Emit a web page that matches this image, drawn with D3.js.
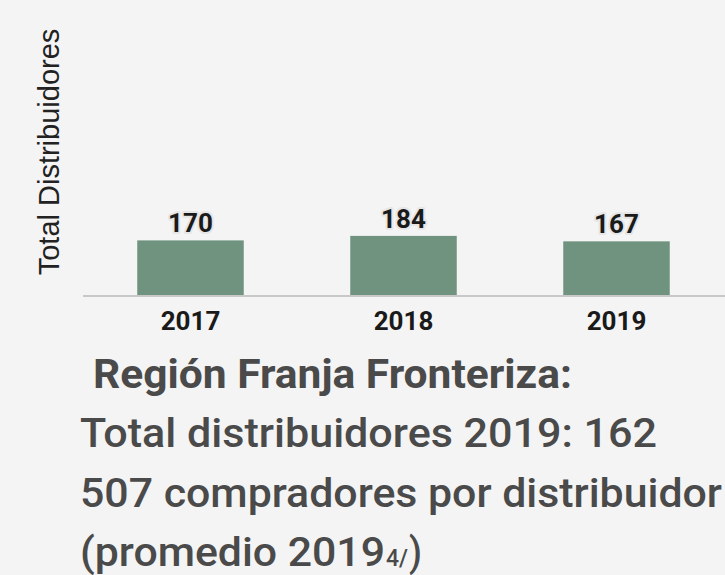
<!DOCTYPE html>
<html>
<head>
<meta charset="utf-8">
<script src="https://cdn.jsdelivr.net/npm/d3@7"></script>
<style>
  body { margin: 0; background: #f4f4f4; }
  svg { display: block; }
</style>
</head>
<body>
<div id="chart"></div>
<script>
var years = ['2017', '2018', '2019'],
    totals = [170, 184, 167];

var yTitle = 'Total Distribuidores';
var notes = [
    {text: 'Región Franja Fronteriza:', weight: 700, x: 93, len: 479},
    {text: 'Total distribuidores 2019: 162', weight: 500, x: 80, len: 577},
    {text: '507 compradores por distribuidor', weight: 500, x: 80, len: 642}
];

var width = 725, height = 575,
    barColor = '#6f937f',
    textColor = '#4a4a4a';

var svg = d3.select('#chart').append('svg')
    .attr('width', width)
    .attr('height', height);

svg.append('rect')
    .attr('width', width)
    .attr('height', height)
    .attr('fill', '#f4f4f4');

var x = d3.scaleBand()
    .domain(years)
    .range([84, 723])
    .paddingInner(0.5)
    .paddingOuter(0.25);

var y = d3.scaleLinear()
    .domain([0, 800])
    .range([295, 38]);

// bars
svg.selectAll('rect.bar')
    .data(totals)
    .enter().append('rect')
    .attr('class', 'bar')
    .attr('x', function(d, i) { return x(years[i]); })
    .attr('y', function(d) { return y(d); })
    .attr('width', x.bandwidth())
    .attr('height', function(d) { return y(0) - y(d); })
    .attr('fill', barColor);

// baseline
svg.append('line')
    .attr('x1', 83)
    .attr('x2', width)
    .attr('y1', y(0) + 1)
    .attr('y2', y(0) + 1)
    .attr('stroke', '#c8c8c8')
    .attr('stroke-width', 2);

// value labels with a light halo
svg.selectAll('text.val')
    .data(totals)
    .enter().append('text')
    .attr('class', 'val')
    .attr('x', function(d, i) { return x(years[i]) + x.bandwidth() / 2; })
    .attr('y', function(d) { return y(d) - 8; })
    .attr('text-anchor', 'middle')
    .style('font-family', 'Roboto, sans-serif')
    .style('font-weight', 700)
    .style('font-size', '26px')
    .style('fill', '#1a1a1a')
    .style('stroke', '#e6e6e6')
    .style('stroke-width', 4)
    .style('stroke-linejoin', 'round')
    .style('paint-order', 'stroke')
    .text(function(d) { return d; });

// x axis labels
var xAxis = svg.append('g')
    .attr('transform', 'translate(0,' + y(0) + ')')
    .call(d3.axisBottom(x).tickSize(0).tickPadding(17));
xAxis.select('.domain').remove();
xAxis.selectAll('text')
    .style('font-family', 'Roboto, sans-serif')
    .style('font-weight', 700)
    .style('font-size', '26px')
    .style('fill', '#1a1a1a');

// y title
svg.append('text')
    .attr('transform', 'translate(59,152) rotate(-90)')
    .attr('text-anchor', 'middle')
    .style('font-family', '"Liberation Sans", Arial, sans-serif')
    .style('font-size', '29px')
    .style('fill', '#222')
    .text(yTitle);

// notes below the chart
var lineY = [388, 447, 507];
svg.selectAll('text.note')
    .data(notes)
    .enter().append('text')
    .attr('class', 'note')
    .attr('x', function(d) { return d.x; })
    .attr('y', function(d, i) { return lineY[i]; })
    .attr('textLength', function(d) { return d.len; })
    .attr('lengthAdjust', 'spacingAndGlyphs')
    .style('font-family', 'Roboto, sans-serif')
    .style('font-weight', function(d) { return d.weight; })
    .style('font-size', '40px')
    .style('fill', textColor)
    .text(function(d) { return d.text; });

var last = svg.append('text')
    .attr('y', 566)
    .style('font-family', 'Roboto, sans-serif')
    .style('font-weight', 500)
    .style('fill', textColor);
last.append('tspan')
    .attr('x', 80)
    .attr('textLength', 305)
    .attr('lengthAdjust', 'spacingAndGlyphs')
    .style('font-size', '40px')
    .text('(promedio 2019');
last.append('tspan')
    .attr('x', 386)
    .attr('textLength', 22)
    .attr('lengthAdjust', 'spacingAndGlyphs')
    .style('font-size', '24px')
    .text('4/');
last.append('tspan')
    .attr('x', 409)
    .attr('textLength', 13)
    .attr('lengthAdjust', 'spacingAndGlyphs')
    .style('font-size', '40px')
    .text(')');
</script>
</body>
</html>
